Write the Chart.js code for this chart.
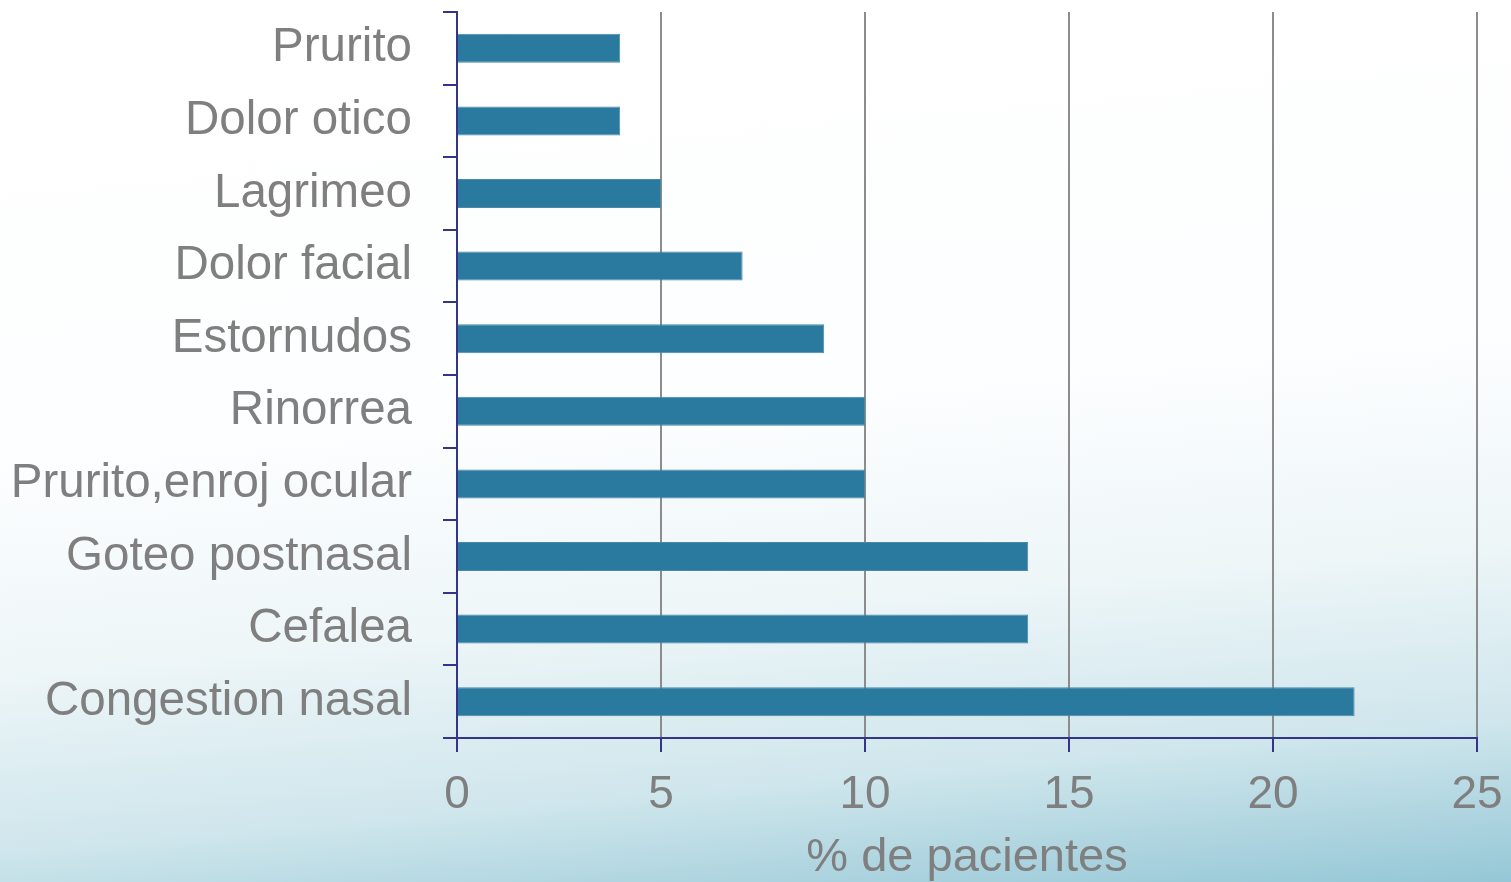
<!DOCTYPE html>
<html>
<head>
<meta charset="utf-8">
<script src="https://cdn.jsdelivr.net/npm/chart.js@4.4.1/dist/chart.umd.min.js"></script>
<style>
	html, body { margin: 0; padding: 0; overflow: hidden; }
	body {
		width: 1511px;
		height: 882px;
		background: linear-gradient( 175deg, #ffffff 0%, #fdfeff 45%, #eef6f8 66%, #cfe6ec 84%, #95c7d6 100% );
	}
	#wrap { position: relative; width: 1511px; height: 882px; }
</style>
</head>
<body>
<div id="wrap"><canvas id="chart"></canvas></div>
<script>
( function () {
	'use strict';

	// ── Data ──────────────────────────────────────────────────────────────────
	var symptoms = [
		'Prurito', 'Dolor otico', 'Lagrimeo', 'Dolor facial', 'Estornudos',
		'Rinorrea', 'Prurito,enroj ocular', 'Goteo postnasal', 'Cefalea', 'Congestion nasal'
	];
	var pctPatients = [ 4, 4, 5, 7, 9, 10, 10, 14, 14, 22 ];
	var xTicks      = [ 0, 5, 10, 15, 20, 25 ];

	// ── Styles ────────────────────────────────────────────────────────────────
	var FONT   = '"Liberation Sans", Arial, sans-serif';
	var GREY   = '#7f7f7f';
	var NAVY   = '#34348a';
	var BAR    = '#2a799e';

	var ctx = document.getElementById( 'chart' ).getContext( '2d' );

	new Chart( ctx, {
		type : 'bar',
		data : {
			labels   : symptoms,
			datasets : [ {
				data               : pctPatients,
				backgroundColor    : BAR,
				borderColor        : '#4a88a8',
				borderWidth        : 1,
				barPercentage      : 0.4,
				categoryPercentage : 1.0,
			} ],
		},
		options : {
			indexAxis           : 'y',
			responsive          : true,
			maintainAspectRatio : false,
			animation           : false,
			layout              : { padding: { top: 12, right: 34, left: 0, bottom: 0 } },
			plugins             : {
				legend  : { display: false },
				tooltip : { enabled: false },
			},
			scales : {
				x : {
					min   : 0,
					max   : 25,
					afterBuildTicks : function ( scale ) {
						scale.ticks = xTicks.map( function ( v ) { return { value: v }; } );
					},
					// Fixed axis band, no label overhang padding.
					afterFit : function ( scale ) {
						scale.height       = 144;
						scale.paddingLeft  = 0;
						scale.paddingRight = 0;
					},
					grid  : {
						color      : '#8c8c8c',
						lineWidth  : 2,
						tickColor  : NAVY,
						tickLength : 14,
					},
					border : { color: NAVY, width: 2 },
					ticks  : {
						color   : GREY,
						padding : 16,
						font    : { family: FONT, size: 46 },
					},
					title : {
						display : true,
						text    : '% de pacientes',
						color   : GREY,
						padding : { top: 8, bottom: 0 },
						font    : { family: FONT, size: 47, lineHeight: 1 },
					},
				},
				y : {
					afterFit : function ( scale ) {
						scale.width         = 457;
						scale.paddingTop    = 0;
						scale.paddingBottom = 0;
					},
					grid : {
						drawOnChartArea : false,
						tickColor       : NAVY,
						tickLength      : 14,
						lineWidth       : 2,
					},
					border : { color: NAVY, width: 2 },
					ticks  : {
						color   : GREY,
						padding : 31,
						font    : { family: FONT, size: 47.5 },
					},
				},
			},
		},
	} );

}() );
</script>
</body>
</html>
